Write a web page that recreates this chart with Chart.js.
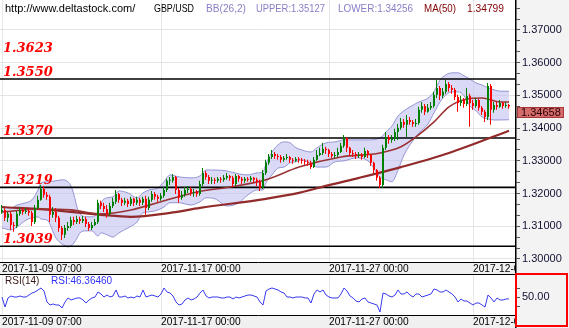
<!DOCTYPE html>
<html>
<head>
<meta charset="utf-8">
<title>GBP/USD hourly</title>
<script src="https://cdn.jsdelivr.net/npm/chart.js@4.4.1/dist/chart.umd.min.js"></script>
<style>
  html, body { margin: 0; padding: 0; background: #fff; }
  #wrap { position: relative; width: 569px; height: 328px; overflow: hidden; background: #fff; }
  #main { position: absolute; left: 0; top: 0; }
  #rsi { position: absolute; left: 0; top: 275px; }
  #sel { position: absolute; left: 515px; top: 273px; width: 53px; height: 54px;
         border: 2px solid #ff0000; box-sizing: border-box; pointer-events: none; }
</style>
</head>
<body>
<div id="wrap">
  <canvas id="main" width="569" height="275"></canvas>
  <canvas id="rsi" width="569" height="53"></canvas>
  <div id="sel"></div>
</div>
<script>
// ---- data -------------------------------------------------------------
const siteUrl = 'http://www.deltastock.com/';
const symbol = 'GBP/USD';
const bbPeriod = 26, bbDev = 2, maPeriod = 50, rsiPeriod = 14;
const bbUpperLast = 1.35127, bbLowerLast = 1.34256, ma50Last = 1.34799, rsiLast = 46.36460;

const dateTickIndex = [0, 53, 109, 157];
const dateTickLabels = ['2017-11-09 07:00', '2017-11-17 00:00', '2017-11-27 00:00', '2017-12-01 00:00'];
const priceTicks = [1.30, 1.31, 1.32, 1.33, 1.34, 1.35, 1.36, 1.37];
const rsiTicks = [50];

const levels = [1.3623, 1.3550, 1.3370, 1.3219, 1.3039];
const levelDrawn = [false, true, true, true, true];

const opens = [
1.3144,1.3150,1.3126,1.3138,1.3104,1.3101,1.3138,1.3150,1.3144,1.3147,
1.3141,1.3113,1.3156,1.3181,1.3214,1.3196,1.3190,1.3135,1.3144,1.3126,
1.3095,1.3074,1.3095,1.3101,1.3119,1.3113,1.3122,1.3116,1.3122,1.3107,
1.3095,1.3104,1.3113,1.3172,1.3162,1.3153,1.3138,1.3162,1.3175,1.3199,
1.3181,1.3172,1.3178,1.3168,1.3184,1.3172,1.3181,1.3172,1.3184,1.3156,
1.3181,1.3199,1.3190,1.3184,1.3193,1.3211,1.3239,1.3239,1.3251,1.3211,
1.3187,1.3196,1.3211,1.3214,1.3202,1.3205,1.3199,1.3229,1.3263,1.3251,
1.3239,1.3242,1.3239,1.3245,1.3242,1.3248,1.3254,1.3248,1.3229,1.3254,
1.3245,1.3239,1.3245,1.3242,1.3248,1.3242,1.3236,1.3217,1.3263,1.3294,
1.3312,1.3321,1.3315,1.3312,1.3303,1.3309,1.3312,1.3303,1.3300,1.3306,
1.3303,1.3300,1.3297,1.3294,1.3281,1.3303,1.3318,1.3324,1.3337,1.3333,
1.3321,1.3315,1.3318,1.3327,1.3346,1.3370,1.3340,1.3324,1.3321,1.3315,
1.3318,1.3312,1.3330,1.3318,1.3294,1.3272,1.3248,1.3226,1.3340,1.3373,
1.3364,1.3367,1.3388,1.3401,1.3419,1.3410,1.3425,1.3419,1.3413,1.3416,
1.3456,1.3468,1.3450,1.3462,1.3468,1.3502,1.3523,1.3499,1.3511,1.3535,
1.3523,1.3517,1.3495,1.3477,1.3486,1.3474,1.3499,1.3477,1.3468,1.3486,
1.3462,1.3450,1.3434,1.3529,1.3456,1.3471,1.3465,1.3477,1.3468,1.3471];

const highs = [
1.3165,1.3156,1.3144,1.3144,1.3113,1.3147,1.3159,1.3156,1.3156,1.3153,
1.3147,1.3165,1.3193,1.3226,1.3223,1.3205,1.3196,1.3159,1.3156,1.3132,
1.3101,1.3104,1.3113,1.3129,1.3129,1.3132,1.3129,1.3132,1.3129,1.3113,
1.3113,1.3122,1.3181,1.3178,1.3172,1.3165,1.3172,1.3187,1.3211,1.3202,
1.3187,1.3187,1.3184,1.3190,1.3187,1.3190,1.3187,1.3190,1.3193,1.3190,
1.3208,1.3205,1.3196,1.3202,1.3220,1.3245,1.3251,1.3260,1.3254,1.3217,
1.3208,1.3220,1.3223,1.3220,1.3214,1.3211,1.3239,1.3278,1.3269,1.3257,
1.3251,1.3248,1.3251,1.3251,1.3257,1.3263,1.3257,1.3254,1.3260,1.3257,
1.3251,1.3251,1.3251,1.3254,1.3251,1.3248,1.3242,1.3272,1.3303,1.3321,
1.3333,1.3327,1.3321,1.3318,1.3315,1.3321,1.3315,1.3309,1.3312,1.3312,
1.3309,1.3306,1.3303,1.3300,1.3312,1.3333,1.3340,1.3355,1.3343,1.3337,
1.3327,1.3327,1.3340,1.3355,1.3379,1.3373,1.3343,1.3333,1.3327,1.3327,
1.3324,1.3340,1.3333,1.3321,1.3297,1.3275,1.3254,1.3349,1.3388,1.3379,
1.3379,1.3398,1.3413,1.3431,1.3428,1.3440,1.3434,1.3425,1.3428,1.3465,
1.3480,1.3474,1.3474,1.3480,1.3511,1.3547,1.3529,1.3523,1.3547,1.3541,
1.3532,1.3523,1.3502,1.3499,1.3492,1.3523,1.3505,1.3486,1.3492,1.3489,
1.3468,1.3456,1.3538,1.3535,1.3480,1.3480,1.3486,1.3480,1.3480,1.3474];

const lows = [
1.3138,1.3116,1.3113,1.3089,1.3083,1.3095,1.3132,1.3135,1.3138,1.3132,
1.3101,1.3107,1.3153,1.3178,1.3187,1.3181,1.3113,1.3126,1.3113,1.3083,
1.3058,1.3064,1.3086,1.3095,1.3104,1.3107,1.3107,1.3110,1.3098,1.3086,
1.3089,1.3101,1.3107,1.3153,1.3144,1.3126,1.3132,1.3156,1.3168,1.3172,
1.3162,1.3165,1.3159,1.3162,1.3162,1.3165,1.3162,1.3165,1.3135,1.3150,
1.3175,1.3181,1.3175,1.3178,1.3187,1.3205,1.3226,1.3233,1.3199,1.3172,
1.3181,1.3190,1.3202,1.3193,1.3190,1.3190,1.3193,1.3223,1.3242,1.3229,
1.3229,1.3229,1.3233,1.3233,1.3236,1.3242,1.3239,1.3220,1.3223,1.3236,
1.3229,1.3233,1.3236,1.3236,1.3233,1.3223,1.3208,1.3214,1.3257,1.3288,
1.3306,1.3306,1.3303,1.3294,1.3297,1.3303,1.3294,1.3291,1.3297,1.3294,
1.3291,1.3288,1.3285,1.3275,1.3278,1.3300,1.3315,1.3318,1.3321,1.3312,
1.3309,1.3309,1.3312,1.3324,1.3340,1.3327,1.3315,1.3312,1.3306,1.3309,
1.3303,1.3309,1.3309,1.3285,1.3263,1.3239,1.3217,1.3217,1.3333,1.3352,
1.3355,1.3361,1.3364,1.3395,1.3401,1.3373,1.3410,1.3404,1.3404,1.3410,
1.3447,1.3440,1.3447,1.3456,1.3462,1.3492,1.3486,1.3492,1.3505,1.3511,
1.3505,1.3486,1.3450,1.3468,1.3462,1.3468,1.3404,1.3456,1.3462,1.3453,
1.3440,1.3419,1.3425,1.3410,1.3447,1.3456,1.3462,1.3459,1.3462,1.3459];

const closes = [
1.3150,1.3126,1.3138,1.3104,1.3101,1.3138,1.3150,1.3144,1.3147,1.3141,
1.3113,1.3156,1.3181,1.3214,1.3196,1.3190,1.3135,1.3144,1.3126,1.3095,
1.3074,1.3095,1.3101,1.3119,1.3113,1.3122,1.3116,1.3122,1.3107,1.3095,
1.3104,1.3113,1.3172,1.3162,1.3153,1.3138,1.3162,1.3175,1.3199,1.3181,
1.3172,1.3178,1.3168,1.3184,1.3172,1.3181,1.3172,1.3184,1.3156,1.3181,
1.3199,1.3190,1.3184,1.3193,1.3211,1.3239,1.3239,1.3251,1.3211,1.3187,
1.3196,1.3211,1.3214,1.3202,1.3205,1.3199,1.3229,1.3263,1.3251,1.3239,
1.3242,1.3239,1.3245,1.3242,1.3248,1.3254,1.3248,1.3229,1.3254,1.3245,
1.3239,1.3245,1.3242,1.3248,1.3242,1.3236,1.3217,1.3263,1.3294,1.3312,
1.3321,1.3315,1.3312,1.3303,1.3309,1.3312,1.3303,1.3300,1.3306,1.3303,
1.3300,1.3297,1.3294,1.3281,1.3303,1.3318,1.3324,1.3337,1.3333,1.3321,
1.3315,1.3318,1.3327,1.3346,1.3370,1.3340,1.3324,1.3321,1.3315,1.3318,
1.3312,1.3330,1.3318,1.3294,1.3272,1.3248,1.3226,1.3340,1.3373,1.3364,
1.3367,1.3388,1.3401,1.3419,1.3410,1.3425,1.3419,1.3413,1.3416,1.3456,
1.3468,1.3450,1.3462,1.3468,1.3502,1.3523,1.3499,1.3511,1.3535,1.3523,
1.3517,1.3495,1.3477,1.3486,1.3474,1.3499,1.3477,1.3468,1.3486,1.3462,
1.3450,1.3434,1.3529,1.3456,1.3471,1.3465,1.3477,1.3468,1.3471,1.34658];

// Bollinger band edges, read at these candle indices
const bandIndex = [0,3,5,8,10,12,13,15,18,20,22,23,24,25,26,28,30,32,33,35,37,39,42,45,47,49,52,54,56,59,
  63,66,68,71,75,79,82,85,87,88,90,92,94,96,98,100,103,105,108,111,114,118,122,126,128,130,132,134,136,139,
  142,144,146,148,150,152,154,156,158,160,162,164,166,169];
const bbUpper = [1.3159,1.3156,1.3165,1.3172,1.3181,1.3211,1.3233,1.3236,1.3239,1.3242,1.3236,1.3223,1.3196,1.3159,1.3138,1.3129,1.3129,1.3144,1.3172,1.3187,
  1.3190,1.3208,1.3202,1.3187,1.3202,1.3211,1.3217,1.3236,1.3257,1.3251,1.3248,1.3254,1.3272,1.3272,1.3269,1.3260,1.3257,1.3263,1.3266,1.3291,
  1.3327,1.3349,1.3358,1.3355,1.3340,1.3333,1.3327,1.3340,1.3355,1.3358,1.3364,1.3364,1.3364,1.3370,1.3388,1.3407,1.3437,1.3453,1.3465,1.3480,
  1.3492,1.3511,1.3547,1.3563,1.3569,1.3569,1.3560,1.3550,1.3538,1.3532,1.3523,1.3517,1.3513,1.35127];
const bbLower = [1.3095,1.3089,1.3098,1.3119,1.3126,1.3129,1.3122,1.3119,1.3064,1.3046,1.3037,1.3040,1.3049,1.3064,1.3080,1.3086,1.3086,1.3070,1.3080,1.3074,
  1.3067,1.3080,1.3095,1.3113,1.3141,1.3144,1.3150,1.3159,1.3172,1.3172,1.3165,1.3175,1.3187,1.3184,1.3162,1.3172,1.3196,1.3211,1.3211,1.3233,
  1.3257,1.3278,1.3281,1.3294,1.3297,1.3303,1.3291,1.3281,1.3281,1.3297,1.3300,1.3309,1.3300,1.3251,1.3242,1.3236,1.3272,1.3318,1.3349,1.3385,
  1.3413,1.3447,1.3480,1.3502,1.3511,1.3511,1.3499,1.3468,1.3453,1.3434,1.3428,1.3425,1.3425,1.34256];

const ma50Index = [0,13,23,33,43,53,65,76,88,99,113,126,133,138,144,149,155,160,166,169];
const ma50 = [1.3144,1.3153,1.3150,1.3138,1.3150,1.3175,1.3205,1.3220,1.3242,1.3281,1.3312,1.3324,1.3343,1.3373,1.3419,1.3465,1.3489,1.3492,1.3480,1.34799];

const maLongIndex = [0,16,33,43,56,66,88,99,109,119,133,149,169];
const maLong = [1.3159,1.3150,1.3135,1.3129,1.3141,1.3156,1.3184,1.3202,1.3226,1.3248,1.3281,1.3324,1.3392];

const rsi14 = [
50.5,28.0,48.3,52.8,50.5,50.5,52.8,50.5,50.5,55.0,
59.5,61.8,66.3,70.8,64.0,39.3,32.5,34.8,32.5,32.5,
25.8,39.3,48.3,43.8,46.0,48.3,48.3,43.8,37.0,43.8,
48.3,50.5,61.8,57.3,50.5,55.0,50.5,52.8,66.3,50.5,
50.5,52.8,48.3,50.5,48.3,52.8,50.5,66.3,50.5,52.8,
55.0,52.8,50.5,57.3,70.8,61.8,59.5,52.8,39.3,32.5,
34.8,43.8,48.3,43.8,46.0,50.5,59.5,66.3,52.8,48.3,
50.5,50.5,50.5,48.3,48.3,50.5,50.5,46.0,50.5,48.3,
50.5,52.8,55.0,55.0,52.8,50.5,39.3,32.5,64.0,68.5,
70.8,68.5,66.3,61.8,59.5,50.5,50.5,48.3,50.5,50.5,
50.5,48.3,48.3,37.0,57.3,66.3,61.8,66.3,55.0,50.5,
48.3,48.3,48.3,57.3,70.8,64.0,52.8,48.3,41.5,39.3,
46.0,48.3,39.3,37.0,34.8,32.5,16.8,59.5,57.3,52.8,
50.5,55.0,66.3,57.3,57.3,61.8,55.0,50.5,57.3,57.3,
50.5,52.8,55.0,57.3,68.5,66.3,61.8,61.8,66.3,61.8,
57.3,50.5,39.3,46.0,41.5,41.5,37.0,32.5,37.0,37.0,
32.5,28.0,55.0,48.3,39.3,48.3,43.8,43.8,46.0,46.3646];

// ---- layout / style ----------------------------------------------------
const SLOTS = 172;                 // candle slots across the plot width
const X_MIN = -2 / 3, X_MAX = X_MIN + SLOTS;
const Y_MIN = 1.29908, Y_MAX = 1.37917;
const UP = '#008000', DOWN = '#ff0000';
const PANEL = '#f3f3f3', BAR = '#f0f0f0';
const FONT = '"Liberation Sans", Arial, sans-serif';

const lastClose = closes[closes.length - 1];
const idx = closes.map((_, i) => i);
const candleColor = i => (closes[i] >= opens[i] ? UP : DOWN);
const pts = (ix, vals) => ix.map((x, k) => ({ x, y: vals[k] }));

// price ticks: labelled majors plus two minor marks between them
const priceAxisTicks = [];
const step = (priceTicks[1] - priceTicks[0]) / 3;
for (let j = -3; j <= (priceTicks.length - 1) * 3 + 3; j++) {
  const v = priceTicks[0] + j * step;
  if (v >= Y_MIN && v <= Y_MAX) priceAxisTicks.push({ value: v, major: j % 3 === 0 });
}

function dateAxis() {
  return {
    type: 'linear', min: X_MIN, max: X_MAX, bounds: 'data', offset: false, position: 'bottom',
    backgroundColor: BAR,
    border: { display: true, color: '#000', width: 1 },
    grid: { color: '#e6e6e6', drawTicks: false, offset: false, lineWidth: 1 },
    ticks: {
      autoSkip: false, maxRotation: 0, minRotation: 0, align: 'start', padding: 1,
      color: '#000', font: { family: FONT, size: 10.2 },
      callback: (v, i) => dateTickLabels[i]
    },
    afterBuildTicks: s => { s.ticks = dateTickIndex.map(v => ({ value: v })); },
    afterFit: s => { s.height = 13; s.paddingLeft = 0; s.paddingRight = 0; }
  };
}

function sideAxis(min, max, ticks, fmt) {
  return {
    type: 'linear', position: 'right', min, max, bounds: 'data',
    backgroundColor: PANEL,
    border: { display: true, color: '#000', width: 1.5 },
    grid: {
      color: c => (c.tick && c.tick.major && c.tick.grid ? '#e4e4e4' : 'rgba(0,0,0,0)'),
      tickColor: '#555', tickLength: 4, drawTicks: true
    },
    ticks: {
      autoSkip: false, padding: 2, z: 1, color: '#101030',
      font: { family: FONT, size: 11 },
      callback: (v, i, t) => (t[i].major ? fmt(v) : '')
    },
    afterBuildTicks: s => { s.ticks = ticks.map(t => Object.assign({}, t)); },
    afterFit: s => { s.width = 53; s.paddingTop = 0; s.paddingBottom = 0; }
  };
}

// grey corner under the side panel, and the panel's dividing line
const cornerPlugin = {
  id: 'corner',
  afterDatasetsDraw(chart) {
    const { ctx, chartArea: a, width, height } = chart;
    ctx.save();
    ctx.fillStyle = PANEL;
    ctx.fillRect(a.right, a.bottom, width - a.right, height - a.bottom);
    const bx = Math.round(a.right - 0.75) + 0.75;
    ctx.strokeStyle = '#000';
    ctx.lineWidth = 1.5;
    ctx.beginPath(); ctx.moveTo(bx, a.bottom); ctx.lineTo(bx, height); ctx.stroke();
    ctx.restore();
  }
};

const levelLabelPlugin = {
  id: 'levelLabels',
  afterDatasetsDraw(chart) {
    const { ctx } = chart, ys = chart.scales.y;
    ctx.save();
    ctx.font = 'italic bold 13px "DejaVu Serif", serif';
    ctx.fillStyle = '#ff0000';
    ctx.textBaseline = 'alphabetic';
    levels.forEach(v => ctx.fillText(v.toFixed(4), 3, ys.getPixelForValue(v) - 3));
    ctx.restore();
  }
};

const headerPlugin = {
  id: 'header',
  afterDraw(chart) {
    const { ctx, chartArea: a } = chart;
    ctx.save();
    ctx.font = '11px ' + FONT;
    ctx.textBaseline = 'alphabetic';
    const bb = '#8880c8', ma = '#800000';
    [
      [siteUrl, 5, '#000', 132],
      [symbol, 154, '#000', 40],
      ['BB(' + bbPeriod + ',' + bbDev + ')', 206, bb, 40],
      ['UPPER:' + bbUpperLast.toFixed(5), 256, bb, 69],
      ['LOWER:' + bbLowerLast.toFixed(5), 338, bb, 75],
      ['MA(' + maPeriod + ')', 424, ma, 32],
      [ma50Last.toFixed(5), 467, ma, 37]
    ].forEach(([t, x, c, w]) => { ctx.fillStyle = c; ctx.fillText(t, x, 12, w); });

    // last price tag on the price panel
    const py = chart.scales.y.getPixelForValue(lastClose);
    ctx.fillStyle = '#d46c6c';
    ctx.fillRect(a.right + 1, Math.round(py), 47, 11);
    ctx.strokeStyle = '#a83838';
    ctx.lineWidth = 1;
    ctx.strokeRect(a.right + 1.5, Math.round(py) + 0.5, 46, 10);
    ctx.fillStyle = '#2a0000';
    ctx.textBaseline = 'middle';
    ctx.fillText(lastClose.toFixed(5), a.right + 5, Math.round(py) + 6);

    // lower edge of the date strip
    ctx.strokeStyle = '#000';
    ctx.beginPath(); ctx.moveTo(0, 274.5); ctx.lineTo(a.right, 274.5); ctx.stroke();
    ctx.restore();
  }
};

const rsiLabelPlugin = {
  id: 'rsiLabels',
  afterDraw(chart) {
    const { ctx } = chart;
    ctx.save();
    ctx.font = '10px ' + FONT;
    ctx.textBaseline = 'alphabetic';
    ctx.fillStyle = '#3a1616';
    ctx.fillText('RSI(' + rsiPeriod + ')', 5, 9);
    ctx.fillStyle = '#3434ff';
    ctx.fillText('RSI:' + rsiLast.toFixed(5), 51, 9, 62);
    ctx.restore();
  }
};

const common = {
  responsive: false, animation: false, devicePixelRatio: 1, events: [],
  layout: { padding: 0 },
  plugins: { legend: { display: false }, tooltip: { enabled: false } }
};

// ---- price panel --------------------------------------------------------
const datasets = [
  { type: 'bar', label: 'body', order: 0, xAxisID: 'x', yAxisID: 'y',
    data: idx.map(i => ({ x: i, y: [opens[i], closes[i]] })),
    backgroundColor: c => candleColor(c.dataIndex),
    barThickness: 2, grouped: false, minBarLength: 1, borderWidth: 0, inflateAmount: 0 },
  { type: 'bar', label: 'wick', order: 1, xAxisID: 'xw', yAxisID: 'y',
    data: idx.map(i => ({ x: i, y: [lows[i], highs[i]] })),
    backgroundColor: c => candleColor(c.dataIndex),
    barThickness: 1, grouped: false, minBarLength: 1, borderWidth: 0, inflateAmount: 0 },
  { type: 'line', label: 'MA50', order: 2, data: pts(ma50Index, ma50),
    borderColor: '#9a3434', borderWidth: 1.6, pointRadius: 0, cubicInterpolationMode: 'monotone', fill: false },
  { type: 'line', label: 'MA long', order: 3, data: pts(maLongIndex, maLong),
    borderColor: '#922a2a', borderWidth: 2.2, pointRadius: 0, cubicInterpolationMode: 'monotone', fill: false }
];
levels.forEach((v, k) => {
  if (!levelDrawn[k]) return;
  datasets.push({ type: 'line', label: 'level ' + v, order: 4,
    data: [{ x: X_MIN, y: v }, { x: X_MAX, y: v }],
    borderColor: '#000', borderWidth: 1.6, pointRadius: 0, fill: false });
});
const lowerIndex = datasets.length;
datasets.push({ type: 'line', label: 'BB lower', order: 9, data: pts(bandIndex, bbLower),
  borderColor: '#9494d4', borderWidth: 1, pointRadius: 0, cubicInterpolationMode: 'monotone', fill: false });
datasets.push({ type: 'line', label: 'BB upper', order: 10, data: pts(bandIndex, bbUpper),
  borderColor: '#9494d4', borderWidth: 1, pointRadius: 0, cubicInterpolationMode: 'monotone',
  fill: { target: lowerIndex }, backgroundColor: 'rgba(196,196,242,0.62)' });

new Chart(document.getElementById('main'), {
  type: 'line',
  data: { datasets },
  options: Object.assign({}, common, {
    scales: {
      x: dateAxis(),
      xw: { type: 'linear', display: false, min: -0.5, max: -0.5 + SLOTS, bounds: 'data', offset: false },
      y: sideAxis(Y_MIN, Y_MAX, priceAxisTicks.map(t => Object.assign({ grid: t.major }, t)), v => v.toFixed(5))
    }
  }),
  plugins: [levelLabelPlugin, cornerPlugin, headerPlugin]
});

// ---- RSI panel -----------------------------------------------------------
const rsiAxisTicks = [{ value: 30, major: false }, { value: 70, major: false }]
  .concat(rsiTicks.map(v => ({ value: v, major: true, grid: false })));

new Chart(document.getElementById('rsi'), {
  type: 'line',
  data: { datasets: [
    { label: 'RSI', data: idx.map(i => ({ x: i, y: rsi14[i] })),
      borderColor: '#3a3af0', borderWidth: 1, pointRadius: 0, tension: 0, fill: false }
  ] },
  options: Object.assign({}, common, {
    scales: {
      x: dateAxis(),
      y: sideAxis(10, 100, rsiAxisTicks, v => v.toFixed(2))
    }
  }),
  plugins: [cornerPlugin, rsiLabelPlugin]
});
</script>
</body>
</html>
